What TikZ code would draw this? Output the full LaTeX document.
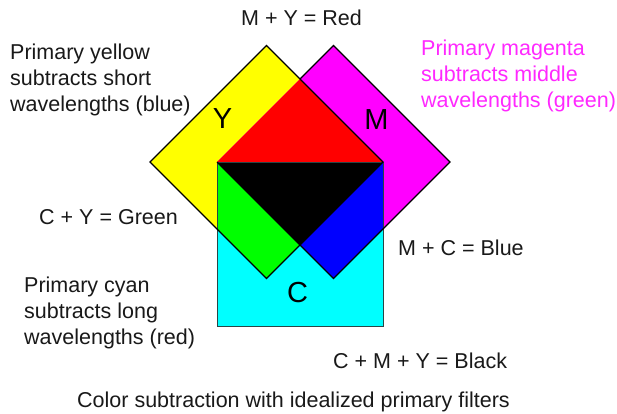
\documentclass[tikz,border=0pt]{standalone}
\usepackage{fontspec}
\setmainfont{Liberation Sans}
\definecolor{cY}{RGB}{255,255,0}
\definecolor{cM}{RGB}{255,0,255}
\definecolor{cC}{RGB}{0,255,255}
\definecolor{cR}{RGB}{255,0,0}
\definecolor{cG}{RGB}{0,255,0}
\definecolor{cB}{RGB}{0,0,255}
\definecolor{magtext}{RGB}{255,40,255}
\definecolor{txt}{RGB}{25,25,25}
\definecolor{sqedge}{RGB}{40,70,70}
\begin{document}
\begin{tikzpicture}[x=1bp,y=-1bp,
  lbl/.style={inner sep=0pt,anchor=base west,text=txt,font=\fontsize{21.5bp}{26bp}\selectfont},
  big/.style={inner sep=0pt,anchor=center,text=black,font=\fontsize{29bp}{32bp}\selectfont},
  edge/.style={draw=black,line width=1.3bp,line join=miter},
  sq/.style={draw=sqedge,line width=0.9bp}]
\path[use as bounding box,fill=white] (0,0) rectangle (617,413);
% key points
\coordinate (YT) at (266.5,45.5);
\coordinate (YR) at (383,162);
\coordinate (YB) at (266.5,278.5);
\coordinate (YL) at (150,162);
\coordinate (MT) at (333.5,45.5);
\coordinate (MR) at (450,162);
\coordinate (MB) at (333.5,278.5);
\coordinate (ML) at (217,162);
\coordinate (RA) at (300,79);
\coordinate (KB) at (300,245);
\coordinate (GL) at (217,228.5);
\coordinate (BR) at (383,228.5);
\coordinate (CBL) at (217,326);
\coordinate (CBR) at (383,326);
% fills
\fill[cY] (YT) -- (YR) -- (YB) -- (YL) -- cycle;
\fill[cM] (MT) -- (MR) -- (MB) -- (ML) -- cycle;
\fill[cC] (ML) rectangle (CBR);
\fill[cR] (ML) -- (RA) -- (YR) -- cycle;
\fill[cG] (ML) -- (KB) -- (YB) -- (GL) -- cycle;
\fill[cB] (YR) -- (KB) -- (MB) -- (BR) -- cycle;
\fill[black] (ML) -- (YR) -- (KB) -- cycle;
% outlines
\draw[sq] (ML) rectangle (CBR);
\draw[edge] (YT) -- (YR) -- (YB) -- (YL) -- cycle;
\draw[edge] (RA) -- (MT) -- (MR) -- (MB) -- (ML);
% labels inside
\node[big] (lY) at (222.5,118.5) {Y};
\node[big] (lM) at (376.5,120) {M};
\node[big] (lC) at (297.5,293) {C};
% texts
\node[lbl] (my) at (241,25) {M + Y = Red};
\node[lbl] (y1) at (10,59) {Primary yellow};
\node[lbl] (y2) at (10,85) {subtracts short};
\node[lbl] (y3) at (10,111) {wavelengths (blue)};
\node[lbl,text=magtext] (m1) at (421,55) {Primary magenta};
\node[lbl,text=magtext] (m2) at (421,81) {subtracts middle};
\node[lbl,text=magtext] (m3) at (421,107) {wavelengths (green)};
\node[lbl] (cy) at (39,224) {C + Y = Green};
\node[lbl] (mc) at (398,255) {M + C = Blue};
\node[lbl] (c1) at (24,292) {Primary cyan};
\node[lbl] (c2) at (24,318) {subtracts long};
\node[lbl] (c3) at (24,344) {wavelengths (red)};
\node[lbl] (cmy) at (333,368) {C + M + Y = Black};
\node[lbl] (cap) at (77,407) {Color subtraction with idealized primary filters};
\end{tikzpicture}
\end{document}
